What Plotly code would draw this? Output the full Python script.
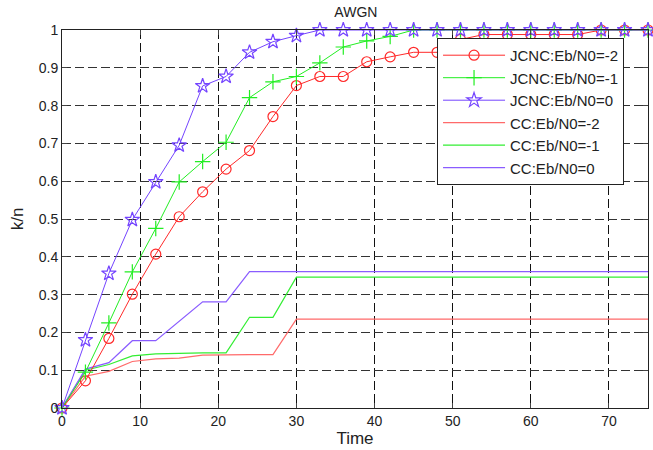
import plotly.graph_objects as go

t = list(range(0, 76, 3))

jcnc_m2 = [0, 0.072, 0.184, 0.301, 0.407, 0.506, 0.572, 0.632, 0.681, 0.771, 0.853,
           0.877, 0.877, 0.916, 0.929, 0.941, 0.941, 0.975, 0.988, 0.988, 0.988,
           0.988, 0.988, 1.0, 1.0, 1.0]
jcnc_m1 = [0, 0.095, 0.225, 0.36, 0.475, 0.598, 0.652, 0.703, 0.821, 0.863, 0.877,
           0.913, 0.955, 0.971, 0.983] + [1.0] * 11
jcnc_0 = [0, 0.18, 0.356, 0.498, 0.598, 0.695, 0.852, 0.877, 0.941, 0.969, 0.985] + [1.0] * 15
cc_m2 = [0, 0.084, 0.097, 0.123, 0.13, 0.132, 0.14, 0.141, 0.141, 0.141] + [0.235] * 16
cc_m1 = [0, 0.1, 0.115, 0.138, 0.143, 0.145, 0.146, 0.146, 0.24, 0.24] + [0.346] * 16
cc_0 = [0, 0.103, 0.12, 0.178, 0.178, 0.23, 0.281, 0.281] + [0.361] * 18

names = ["JCNC:Eb/N0=-2", "JCNC:Eb/N0=-1", "JCNC:Eb/N0=0",
         "CC:Eb/N0=-2", "CC:Eb/N0=-1", "CC:Eb/N0=0"]

x_ticks = [0, 10, 20, 30, 40, 50, 60, 70]
y_ticks = [0, 0.1, 0.2, 0.3, 0.4, 0.5, 0.6, 0.7, 0.8, 0.9, 1]
y_tick_labels = ["0", "0.1", "0.2", "0.3", "0.4", "0.5", "0.6", "0.7", "0.8", "0.9", "1"]

RED, GREEN, PURPLE = "#ff2a2a", "#22ee22", "#7444ff"
RED_L, GREEN_L, PURPLE_L = "#ff6a6a", "#33ee33", "#8a5cff"

fig = go.Figure()

for y, c, n in [(cc_m2, RED_L, names[3]), (cc_m1, GREEN_L, names[4]), (cc_0, PURPLE_L, names[5])]:
    fig.add_trace(go.Scatter(x=t, y=y, mode="lines", name=n,
                             line=dict(color=c, width=1.2), cliponaxis=False,
                             legendrank=2))

specs = [
    (jcnc_m2, RED, names[0], "circle-open", 10),
    (jcnc_m1, GREEN, names[1], "cross-thin-open", 11),
    (jcnc_0, PURPLE, names[2], "star-open", 11),
]
for y, c, n, sym, sz in specs:
    fig.add_trace(go.Scatter(x=t, y=y, mode="lines+markers", name=n,
                             line=dict(color=c, width=1),
                             marker=dict(symbol=sym, size=sz, color=c,
                                         line=dict(color=c, width=1.2)),
                             cliponaxis=False, legendrank=1))

font = dict(family="Liberation Sans, Arial, sans-serif", size=14, color="#222")

fig.update_layout(
    width=653, height=450,
    margin=dict(l=62, r=5, t=30, b=42),
    paper_bgcolor="white", plot_bgcolor="white",
    font=font,
    title=dict(text="AWGN", x=0.545, xanchor="center", y=0.985, yanchor="top",
               font=dict(size=14, color="#222")),
    showlegend=True,
    legend=dict(x=0.64, y=0.979, xanchor="left", yanchor="top",
                bgcolor="white", bordercolor="#222", borderwidth=1,
                font=dict(family="Liberation Sans, Arial, sans-serif", size=15, color="#222"),
                traceorder="normal", tracegroupgap=0, itemwidth=62),
    xaxis=dict(range=[0, 75], tickvals=x_ticks, ticks="inside", ticklen=5,
               showline=True, linecolor="#222", linewidth=1, mirror="ticks",
               showgrid=True, gridcolor="#111", griddash="9px,4px", gridwidth=1,
               zeroline=False, title=dict(text="Time", standoff=4),
               tickfont=dict(size=14)),
    yaxis=dict(range=[0, 1], tickvals=y_ticks, ticktext=y_tick_labels,
               ticks="inside", ticklen=5,
               showline=True, linecolor="#222", linewidth=1, mirror="ticks",
               showgrid=True, gridcolor="#333", griddash="9px,4px", gridwidth=1,
               zeroline=False, title=dict(text="k/n", standoff=10),
               tickfont=dict(size=14)),
)

fig.write_html("out.html", config={"displayModeBar": False},
               post_script="document.body.style.margin='0';document.body.style.overflow='hidden';")
